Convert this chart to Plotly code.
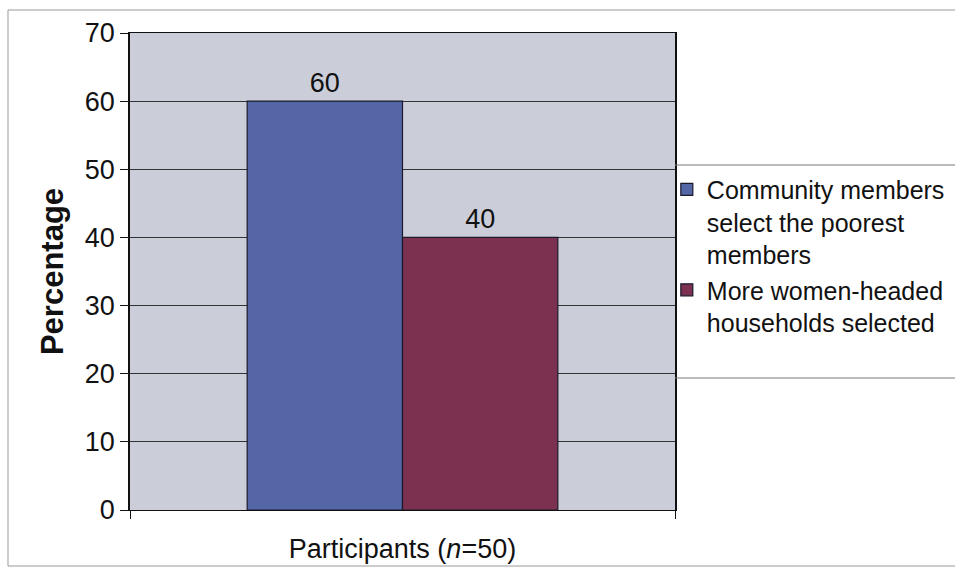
import plotly.graph_objects as go

series = ["Community members<br>select the poorest<br>members", "More women-headed<br>households selected"]
values = [60, 40]
colors = ["#5466A6", "#7C3150"]
y_ticks = [0, 10, 20, 30, 40, 50, 60, 70]

fig = go.Figure()
for name, v, c in zip(series, values, colors):
    fig.add_trace(go.Bar(
        x=[0], y=[v], name=name,
        marker=dict(color=c, line=dict(color="#1a1a2a", width=1.2)),
        text=[str(v)], textposition="outside",
        textfont=dict(size=27, color="#111"),
        cliponaxis=False,
    ))

fig.update_layout(
    width=955, height=570,
    margin=dict(l=130, r=280, t=33, b=60, autoexpand=False),
    paper_bgcolor="white",
    plot_bgcolor="#CBCED9",
    barmode="group",
    bargap=0.43,
    bargroupgap=0,
    font=dict(family="Liberation Sans, Arial, sans-serif", color="#111"),
    showlegend=True,
    legend=dict(
        x=0.985, y=0.72, xanchor="left", yanchor="top",
        font=dict(size=25, color="#111"),
        bgcolor="rgba(0,0,0,0)",
        valign="top",
        itemwidth=30,
    ),
    shapes=[
        dict(type="line", xref="paper", yref="paper", x0=1.0, x1=1.52,
             y0=(510 - 165) / 477, y1=(510 - 165) / 477, line=dict(color="#777", width=1)),
        dict(type="line", xref="paper", yref="paper", x0=1.0, x1=1.52,
             y0=(510 - 378) / 477, y1=(510 - 378) / 477, line=dict(color="#777", width=1)),
        dict(type="rect", xref="paper", yref="paper",
             x0=-122 / 545, x1=1.52, y0=-56 / 477, y1=1 + 23 / 477,
             line=dict(color="#999", width=1)),
    ],
)
fig.update_yaxes(
    range=[0, 70], tickvals=y_ticks,
    ticks="outside", ticklen=8, tickcolor="#111",
    showline=True, linecolor="#111", linewidth=1.5, mirror=True,
    showgrid=True, gridcolor="#333", gridwidth=1,
    tickfont=dict(size=27, color="#111"),
    title=dict(text="<b>Percentage</b>", font=dict(size=31, color="#111"), standoff=12),
    zeroline=False,
)
fig.update_xaxes(
    range=[-0.5, 0.5], tickvals=[-0.5, 0.5], ticktext=["", ""],
    ticks="outside", ticklen=8, tickcolor="#111",
    showline=True, linecolor="#111", linewidth=1.2, mirror=True,
    showgrid=False, zeroline=False,
    title=dict(text="Participants (<i>n</i>=50)", font=dict(size=27, color="#111"), standoff=18),
)

fig.write_html("out.html")
